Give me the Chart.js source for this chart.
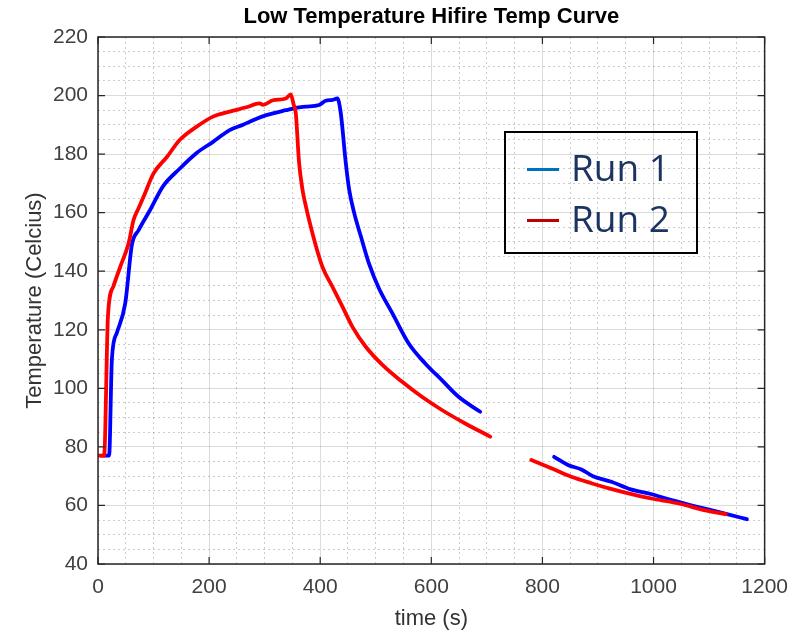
<!DOCTYPE html>
<html>
<head>
<meta charset="utf-8">
<script src="https://cdn.jsdelivr.net/npm/chart.js@4"></script>
<style>
  body { margin: 0; background: #fff; }
  #wrap { position: relative; width: 799px; height: 630px; }
  #legend {
    position: absolute; left: 504px; top: 131px; width: 194px; height: 123px;
    border: 2px solid #000; box-sizing: border-box;
  }
  .lg-line { position: absolute; left: 21px; width: 32px; height: 3px; }
  .lg-text {
    position: absolute; left: 65px; font-family: "Open Sans", sans-serif;
    font-size: 37px; line-height: 37px; color: #1c3461; white-space: nowrap;
  }
</style>
</head>
<body>
<div id="wrap">
  <canvas id="temp" width="799" height="630"></canvas>
  <div id="legend"></div>
</div>
<script>
// time (s) / temperature (C) samples, null marks the logging gap
const run1Time = [7, 20, 25, 34, 49, 61, 73, 94, 117, 147,
                  177, 207, 237, 261, 279, 303, 338, 362, 374, 398,
                  410, 422, 431, 437, 446, 452, 461, 473, 488, 506,
                  530, 559, 589, 619, 649, 688, 750, 821, 846, 870,
                  891, 924, 959, 995, 1031, 1073, 1127, 1168];
const run1Temp = [77, 77, 110, 119, 129, 149, 154, 161, 169, 175,
                  180.3, 184.2, 188.2, 190, 191.6, 193.3, 195, 196, 196.2, 196.8,
                  198.2, 198.5, 199, 194, 177, 168, 160, 152, 142.5, 134,
                  125.6, 115.4, 108.5, 102.8, 97.1, 92, null, 76.6, 73.8, 72.3,
                  70, 68.1, 65.5, 63.9, 61.9, 59.8, 57.3, 55.3];

const run2Time = [0, 11, 18, 28, 40, 55, 64, 73, 82, 100,
                  124, 147, 177, 207, 237, 267, 291, 297, 315, 338,
                  347, 352, 356, 362, 368, 372, 386, 404, 422, 440,
                  458, 482, 512, 547, 583, 619, 661, 706, 745, 780,
                  816, 852, 888, 930, 966, 1001, 1049, 1091, 1130];
const run2Temp = [77, 77, 125, 135, 141.5, 149.5, 157.5, 161.5, 165.4, 173.4,
                  179, 184.8, 189.3, 192.8, 194.5, 196, 197.3, 196.8, 198.4, 199,
                  200.4, 197, 194, 177, 168, 164, 153, 141.5, 134.7, 127.9,
                  121, 114.2, 108, 102.3, 97.1, 92.6, 88, 83.5, null, 75.5,
                  72.7, 69.8, 67.6, 65.3, 63.6, 62.2, 60.5, 58.4, 57];

const xTicks = [0, 200, 400, 600, 800, 1000, 1200];
const yTicks = [40, 60, 80, 100, 120, 140, 160, 180, 200, 220];

const runLabels = ['Run 1', 'Run 2'];
const runColors = ['#0000ff', '#ff0000'];
const legendColors = ['#0070c0', '#c00000'];

const FONT = '"Liberation Sans", Arial, Helvetica, sans-serif';
const MAJOR = 'rgba(0,0,0,0.14)';
const MINOR = 'rgba(0,0,0,0.2)';

const toPoints = (xs, ys) => xs.map((x, i) => ({ x: x, y: ys[i] }));

const isMajor = (ctx, list) => ctx.tick && list.includes(ctx.tick.value);

// box around the plot with inward tick marks on every side
const frame = {
  id: 'frame',
  afterDraw(chart) {
    const { ctx, chartArea: a, scales } = chart;
    ctx.save();
    ctx.strokeStyle = '#262626';
    ctx.lineWidth = 1.5;
    ctx.strokeRect(a.left, a.top, a.right - a.left, a.bottom - a.top);
    ctx.lineWidth = 1.2;
    ctx.beginPath();
    xTicks.forEach(v => {
      const px = scales.x.getPixelForValue(v);
      ctx.moveTo(px, a.bottom); ctx.lineTo(px, a.bottom - 7);
      ctx.moveTo(px, a.top); ctx.lineTo(px, a.top + 7);
    });
    yTicks.forEach(v => {
      const py = scales.y.getPixelForValue(v);
      ctx.moveTo(a.left, py); ctx.lineTo(a.left + 7, py);
      ctx.moveTo(a.right, py); ctx.lineTo(a.right - 7, py);
    });
    ctx.stroke();
    ctx.restore();
  }
};

const chart = new Chart(document.getElementById('temp'), {
  type: 'line',
  data: {
    datasets: [
      { label: runLabels[0], data: toPoints(run1Time, run1Temp), borderColor: runColors[0], order: 1 },
      { label: runLabels[1], data: toPoints(run2Time, run2Temp), borderColor: runColors[1], order: 0 }
    ]
  },
  options: {
    responsive: false,
    animation: false,
    spanGaps: false,
    layout: { padding: { left: 0, right: 32, top: 0, bottom: 0 } },
    elements: {
      line: {
        borderWidth: 3.8, cubicInterpolationMode: 'monotone',
        borderCapStyle: 'round', borderJoinStyle: 'round'
      },
      point: { radius: 0 }
    },
    plugins: {
      legend: { display: false },
      tooltip: { enabled: false },
      title: {
        display: true,
        fullSize: false,
        text: 'Low Temperature Hifire Temp Curve',
        color: '#000',
        font: { family: FONT, size: 22, weight: 'bold', lineHeight: 1 },
        padding: { top: 6, bottom: 9 }
      }
    },
    scales: {
      x: {
        type: 'linear',
        min: 0, max: 1200,
        afterFit: s => { s.height = 66; },
        ticks: {
          stepSize: 50, autoSkip: false, maxRotation: 0, padding: 11,
          color: '#404040', font: { family: FONT, size: 21 },
          callback: v => xTicks.includes(v) ? v : ''
        },
        grid: {
          drawTicks: false,
          color: ctx => isMajor(ctx, xTicks) ? MAJOR : MINOR,
          lineWidth: 1
        },
        border: { display: false, dash: ctx => isMajor(ctx, xTicks) || !ctx.tick ? [] : [2, 3] },
        title: {
          display: true, text: 'time (s)', color: '#333',
          font: { family: FONT, size: 22, lineHeight: 1 }, padding: { top: 0, bottom: 0 }
        }
      },
      y: {
        min: 40, max: 220,
        afterFit: s => { s.width = 98; },
        ticks: {
          stepSize: 5, autoSkip: false, padding: 10,
          color: '#404040', font: { family: FONT, size: 21 },
          callback: v => yTicks.includes(v) ? v : ''
        },
        grid: {
          drawTicks: false,
          color: ctx => isMajor(ctx, yTicks) ? MAJOR : MINOR,
          lineWidth: 1
        },
        border: { display: false, dash: ctx => isMajor(ctx, yTicks) || !ctx.tick ? [] : [2, 3] },
        title: {
          display: true, text: 'Temperature (Celcius)', color: '#333',
          font: { family: FONT, size: 22, lineHeight: 1 }, padding: { top: 24, bottom: 0 }
        }
      }
    }
  },
  plugins: [frame]
});

// legend box drawn over the plot, one row per run
const legend = document.getElementById('legend');
const rowTop = [15, 66];
chart.data.datasets.forEach((ds, i) => {
  const line = document.createElement('div');
  line.className = 'lg-line';
  line.style.top = (rowTop[i] + 20) + 'px';
  line.style.background = legendColors[i];
  legend.appendChild(line);
  const text = document.createElement('div');
  text.className = 'lg-text';
  text.style.top = rowTop[i] + 'px';
  text.textContent = ds.label;
  legend.appendChild(text);
});
</script>
</body>
</html>
